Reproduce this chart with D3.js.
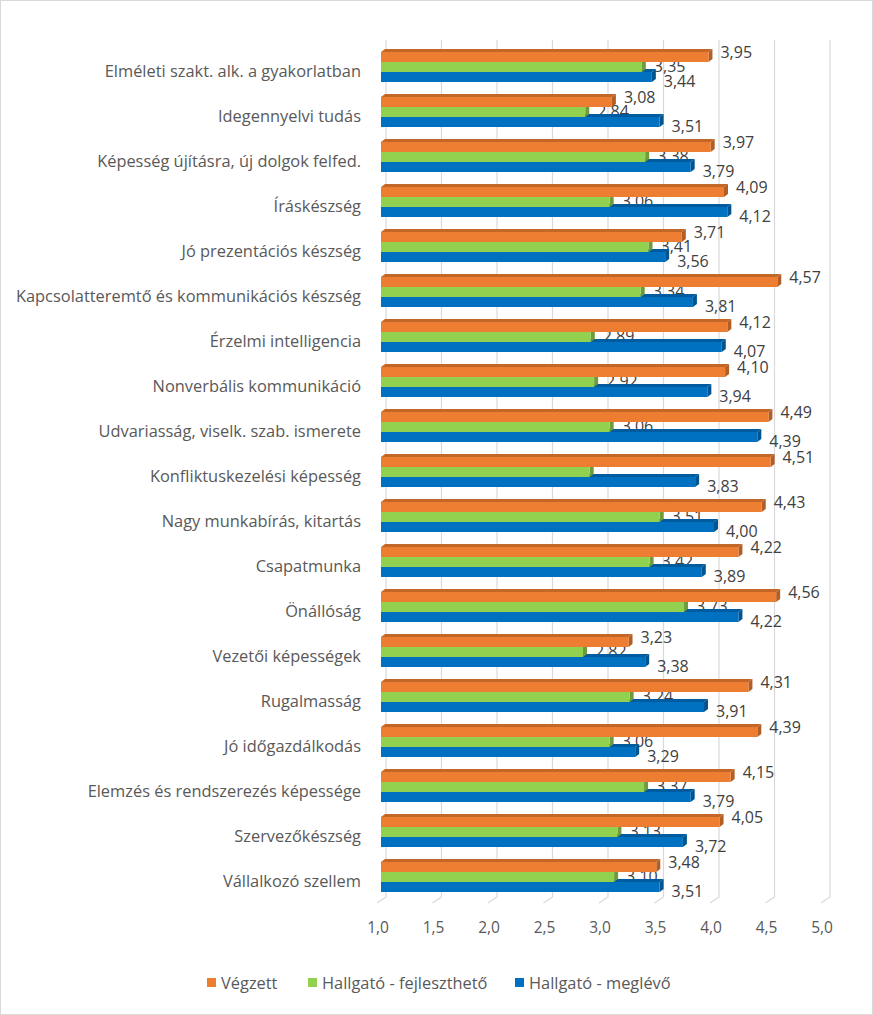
<!DOCTYPE html>
<html>
<head>
<meta charset="utf-8">
<script src="https://cdn.jsdelivr.net/npm/d3@7"></script>
<style>
  html, body { margin: 0; padding: 0; background: #fff; }
  svg { display: block; }
  text { font-family: "Open Sans", "Liberation Sans", sans-serif; }
</style>
</head>
<body>
<div id="chart"></div>
<script>
const categories = [
  "Elméleti szakt. alk. a gyakorlatban",
  "Idegennyelvi tudás",
  "Képesség újításra, új dolgok felfed.",
  "Íráskészség",
  "Jó prezentációs készség",
  "Kapcsolatteremtő és kommunikációs készség",
  "Érzelmi intelligencia",
  "Nonverbális kommunikáció",
  "Udvariasság, viselk. szab. ismerete",
  "Konfliktuskezelési képesség",
  "Nagy munkabírás, kitartás",
  "Csapatmunka",
  "Önállóság",
  "Vezetői képességek",
  "Rugalmasság",
  "Jó időgazdálkodás",
  "Elemzés és rendszerezés képessége",
  "Szervezőkészség",
  "Vállalkozó szellem"
];
const seriesNames = ["Végzett", "Hallgató - fejleszthető", "Hallgató - meglévő"];
const vegzett    = [3.95, 3.08, 3.97, 4.09, 3.71, 4.57, 4.12, 4.10, 4.49, 4.51, 4.43, 4.22, 4.56, 3.23, 4.31, 4.39, 4.15, 4.05, 3.48];
const fejlesztheto = [3.35, 2.84, 3.38, 3.06, 3.41, 3.34, 2.89, 2.92, 3.06, 2.88, 3.51, 3.42, 3.73, 2.82, 3.24, 3.06, 3.37, 3.13, 3.10];
const meglevo    = [3.44, 3.51, 3.79, 4.12, 3.56, 3.81, 4.07, 3.94, 4.39, 3.83, 4.00, 3.89, 4.22, 3.38, 3.91, 3.29, 3.79, 3.72, 3.51];
const seriesValues = [vegzett, fejlesztheto, meglevo];
const colors = ["#ED7D31", "#92D050", "#0070C0"];
const xTicks = [1.0, 1.5, 2.0, 2.5, 3.0, 3.5, 4.0, 4.5, 5.0];
// data labels that are not shown in the original (category index, series index)
const hiddenLabels = [[9, 1]];

const W = 873, H = 1015;
const svg = d3.select("#chart").append("svg").attr("width", W).attr("height", H);

svg.append("rect").attr("x", 0.5).attr("y", 0.5).attr("width", W - 1).attr("height", H - 1)
  .attr("fill", "#fff").attr("stroke", "#d9d9d9");

const x = d3.scaleLinear().domain([1, 5]).range([381, 825]);
const y = d3.scaleBand().domain(categories).range([44.5, 899.5]).paddingInner(1/3).paddingOuter(1/6);
const ys = d3.scaleBand().domain(seriesNames).range([0, y.bandwidth()]);

const DX = 4, DY = 3; // 3D depth offset
const backDX = 5, frontDX = -4;
const gridTop = 40, gridBackBottom = 897, gridFrontBottom = 903;

// gridlines (back wall + floor)
const grid = svg.append("g").attr("stroke", "#d9d9d9").attr("stroke-width", 1.2).attr("fill", "none");
xTicks.forEach(t => {
  const xb = x(t) + backDX, xf = x(t) + frontDX;
  grid.append("path").attr("d", `M${xb},${gridTop}L${xb},${gridBackBottom}L${xf},${gridFrontBottom}`);
});

// x tick labels
svg.append("g").selectAll("text").data(xTicks).join("text")
  .attr("x", d => x(d) - 3).attr("y", 933)
  .attr("text-anchor", "middle").attr("font-size", 15.5).attr("fill", "#595959")
  .text(d => d3.format(".1f")(d).replace(".", ","));

// category labels
svg.append("g").selectAll("text").data(categories).join("text")
  .attr("x", 361).attr("y", d => y(d) + 25)
  .attr("text-anchor", "end").attr("font-size", 16.4).attr("fill", "#595959")
  .text(d => d);

// data labels (drawn beneath the bars, as in the original)
const labelBase = [6, 19.5, 35];
const labels = svg.append("g");
categories.forEach((c, i) => {
  seriesNames.forEach((s, j) => {
    if (hiddenLabels.some(h => h[0] === i && h[1] === j)) return;
    const v = seriesValues[j][i];
    labels.append("text")
      .attr("x", x(v) + 12).attr("y", y(c) + labelBase[j])
      .attr("font-size", 16).attr("fill", "#404040")
      .text(d3.format(".2f")(v).replace(".", ","));
  });
});

// 3D bars
const bars = svg.append("g");
categories.forEach((c, i) => {
  for (let j = seriesNames.length - 1; j >= 0; j--) {
    const v = seriesValues[j][i];
    const x0 = x(1), x1 = x(v);
    const yt = y(c) + ys(seriesNames[j]);
    const h = ys.bandwidth();
    const base = d3.color(colors[j]);
    const top = base.darker(0.55).formatHex();
    const side = base.darker(0.8).formatHex();
    bars.append("path")
      .attr("d", `M${x0},${yt}L${x0 + DX},${yt - DY}L${x1 + DX},${yt - DY}L${x1},${yt}Z`)
      .attr("fill", top);
    bars.append("path")
      .attr("d", `M${x1},${yt}L${x1 + DX},${yt - DY}L${x1 + DX},${yt + h - DY}L${x1},${yt + h}Z`)
      .attr("fill", side);
    bars.append("rect")
      .attr("x", x0).attr("y", yt).attr("width", x1 - x0).attr("height", h)
      .attr("fill", colors[j]);
  }
});

// legend
const legendItems = [
  { name: seriesNames[0], color: colors[0], x: 207 },
  { name: seriesNames[1], color: colors[1], x: 308 },
  { name: seriesNames[2], color: colors[2], x: 515 }
];
const lg = svg.append("g");
legendItems.forEach(d => {
  lg.append("rect").attr("x", d.x).attr("y", 978).attr("width", 9).attr("height", 9).attr("fill", d.color);
  lg.append("text").attr("x", d.x + 14).attr("y", 988.5)
    .attr("font-size", 16.4).attr("fill", "#595959").text(d.name);
});
</script>
</body>
</html>
